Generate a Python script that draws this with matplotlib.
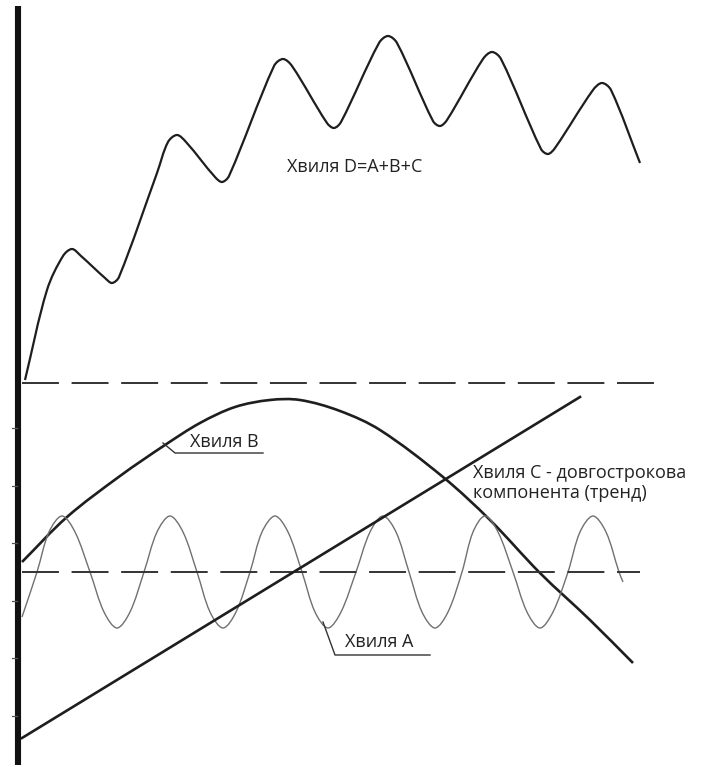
import numpy as np
import matplotlib
matplotlib.use('Agg')
import matplotlib.pyplot as plt
from matplotlib.path import Path
from matplotlib.patches import PathPatch

# points (x along time, y upward)
wave_d_x = [25, 47, 63, 72, 81, 105, 112, 119, 157, 168, 177, 186, 215, 222, 229,
            274, 283, 292, 327, 334, 341, 379, 388, 397, 433, 440, 447,
            483, 492, 501, 541, 548, 555, 593, 602, 611, 640]
wave_d_y = [387, 477, 511, 518, 511, 489, 484, 490, 594, 625, 632, 625, 590, 585, 591,
            701, 708, 701, 644, 639, 645, 724, 731, 724, 646, 641, 647,
            708, 715, 708, 618, 613, 619, 677, 684, 677, 604]

wave_b_x = [22, 67, 120, 165, 200, 235, 270, 300, 340, 380, 443, 490, 540, 590, 633]
wave_b_y = [205, 250, 291, 322, 344, 360, 367, 367, 356, 337, 290, 247, 194, 147, 104]

wave_c_x = [22, 580]
wave_c_y = [29, 370]

wave_a_x = [22, 37, 49, 62, 75, 90, 104, 117, 130, 144, 157, 170, 183, 197, 210, 223, 236,
            250, 262, 275, 288, 302, 315, 328, 341, 356, 370, 383, 396, 409, 422, 435, 448,
            462, 473, 485, 498, 513, 527, 540, 553, 568, 580, 593, 606, 619, 623]
wave_a_y = [150, 195, 235, 251, 235, 195, 155, 139, 155, 195, 235, 251, 235, 195, 155, 139, 155,
            195, 235, 251, 235, 195, 155, 139, 155, 195, 235, 251, 235, 195, 155, 139, 155,
            195, 235, 251, 235, 195, 155, 139, 155, 195, 235, 251, 235, 195, 185]

upper_zero = 384
lower_zero = 195
axis_ticks = [339, 281, 224, 166, 109, 51]

label_d = "Хвиля D=A+B+C"
label_b = "Хвиля В"
label_a = "Хвиля А"
label_c = ["Хвиля С - довгострокова", "компонента (тренд)"]


def smooth_path(xs, ys):
    # bezier through the read points, tangents scaled by chord length
    p = np.column_stack([xs, ys]).astype(float)
    t = np.concatenate([[0], np.cumsum(np.hypot(*np.diff(p, axis=0).T))])
    m = np.zeros_like(p)
    m[1:-1] = (p[2:] - p[:-2]) / (t[2:] - t[:-2])[:, None]
    m[0] = (p[1] - p[0]) / (t[1] - t[0])
    m[-1] = (p[-1] - p[-2]) / (t[-1] - t[-2])
    verts = [p[0]]
    codes = [Path.MOVETO]
    for i in range(len(p) - 1):
        h = t[i + 1] - t[i]
        verts += [p[i] + m[i] * h / 3, p[i + 1] - m[i + 1] * h / 3, p[i + 1]]
        codes += [Path.CURVE4] * 3
    return Path(verts, codes)


plt.rcParams['font.family'] = ['Open Sans', 'DejaVu Sans']

fig = plt.figure(figsize=(7.02, 7.67), dpi=100)
ax = fig.add_axes([0, 0, 1, 1])
ax.set_xlim(0, 702)
ax.set_ylim(0, 767)
ax.axis('off')

ink = '#1e1e1e'

# vertical axis
ax.plot([18, 18], [2, 761], color='#111111', lw=4.4, solid_capstyle='butt')
for t in axis_ticks:
    ax.plot([12, 17], [t, t], color='#555555', lw=0.9)

# zero lines
ax.plot([22, 662], [upper_zero, upper_zero], color='#333333', lw=1.4, dashes=(19, 6.5))
ax.plot([22, 640], [lower_zero, lower_zero], color='#333333', lw=1.4, dashes=(19, 6.5))

# waves
ax.add_patch(PathPatch(smooth_path(wave_d_x, wave_d_y), fill=False, ec=ink, lw=1.6))
ax.add_patch(PathPatch(smooth_path(wave_b_x, wave_b_y), fill=False, ec=ink, lw=1.9))
ax.plot(wave_c_x, wave_c_y, color=ink, lw=1.9)
ax.add_patch(PathPatch(smooth_path(wave_a_x, wave_a_y), fill=False, ec='#707070', lw=1.0))

# labels and leaders
txt = dict(color='#222222', fontsize=13, va='baseline', ha='left')
ax.text(287, 595, label_d, **txt)
ax.text(190, 320, label_b, **txt)
ax.plot([163, 175, 263], [324, 314, 314], color='#333333', lw=1.0)
ax.text(345, 120, label_a, **txt)
ax.plot([323, 335, 430], [145, 112, 112], color='#333333', lw=1.0)
ax.text(473, 289, label_c[0], **txt)
ax.text(473, 269, label_c[1], **txt)

fig.savefig('out.png', dpi=100)
